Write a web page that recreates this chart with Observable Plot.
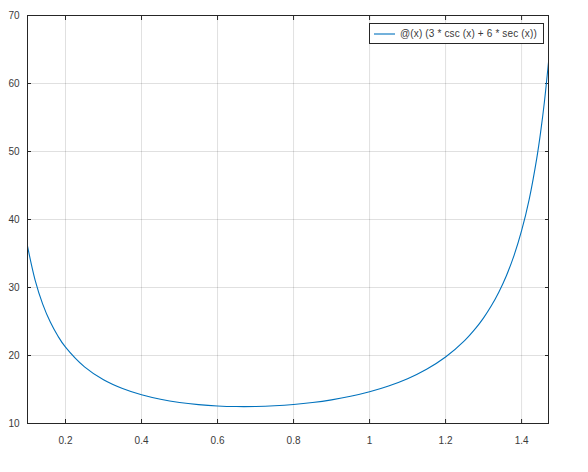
<!DOCTYPE html>
<html>
<head>
<meta charset="utf-8">
<script src="https://cdn.jsdelivr.net/npm/d3@7"></script>
<script src="https://cdn.jsdelivr.net/npm/@observablehq/plot@0.6"></script>
<style>
  html, body { margin: 0; padding: 0; background: #fff; }
  #wrap { position: relative; width: 588px; height: 472px; font-family: "Liberation Sans", Arial, sans-serif; }
  #legend { position: absolute; left: 369px; top: 23px; width: 175px; height: 21px; border: 1px solid #262626; background: #fff;
            display: flex; align-items: center; font-size: 10px; letter-spacing: 0.15px; color: #3a3a3a; padding: 0 0 0 4px; box-sizing: border-box; white-space: nowrap; }
  #legend svg { margin-right: 5px; }
</style>
</head>
<body>
<div id="wrap"></div>
<script>
const seriesName = "@(x) (3 * csc (x) + 6 * sec (x))";
const xValues = [0.10, 0.12, 0.14, 0.16, 0.18, 0.20, 0.25, 0.30, 0.35, 0.40, 0.45, 0.50, 0.55, 0.60, 0.65, 0.70, 0.75, 0.80, 0.85, 0.90, 0.95, 1.00, 1.05, 1.10, 1.15, 1.20, 1.25, 1.28, 1.30, 1.32, 1.34, 1.36, 1.38, 1.40, 1.42, 1.44, 1.45, 1.46, 1.4708];
const yValues = [36.08, 31.10, 27.56, 24.91, 22.86, 21.22, 18.32, 16.43, 15.14, 14.22, 13.56, 13.09, 12.78, 12.58, 12.49, 12.50, 12.60, 12.79, 13.08, 13.48, 14.00, 14.67, 15.52, 16.59, 17.98, 19.78, 22.19, 24.06, 25.54, 27.27, 29.31, 31.74, 34.69, 38.35, 42.97, 49.03, 52.81, 57.28, 63.12];
const xTicks = [0.2, 0.4, 0.6, 0.8, 1, 1.2, 1.4];
const yTicks = [10, 20, 30, 40, 50, 60, 70];
const xDomain = [0.1, 1.4708];
const yDomain = [10, 70];

const data = xValues.map((x, i) => ({x, y: yValues[i]}));
const lineColor = "#0072BD";
const axisColor = "#262626";

const chart = Plot.plot({
  width: 588,
  height: 472,
  marginLeft: 27,
  marginRight: 40,
  marginTop: 15,
  marginBottom: 49,
  style: {fontFamily: "Liberation Sans, Arial, sans-serif", fontSize: "10px", color: axisColor, background: "#fff"},
  x: {domain: xDomain},
  y: {domain: yDomain},
  marks: [
    Plot.gridX(xTicks, {stroke: "#000", strokeOpacity: 0.12}),
    Plot.gridY(yTicks, {stroke: "#000", strokeOpacity: 0.12}),
    Plot.axisX(xTicks, {anchor: "bottom", tickSize: -4, tickPadding: 17, label: null, tickFormat: d => String(d), stroke: axisColor, fill: "#3a3a3a"}),
    Plot.axisX(xTicks, {anchor: "top", tickSize: -4, label: null, tickFormat: () => "", stroke: axisColor}),
    Plot.axisY(yTicks, {anchor: "left", tickSize: -4, tickPadding: 12, label: null, stroke: axisColor, fill: "#3a3a3a"}),
    Plot.axisY(yTicks, {anchor: "right", tickSize: -4, label: null, tickFormat: () => "", stroke: axisColor}),
    Plot.line(data, {x: "x", y: "y", stroke: lineColor, strokeWidth: 1.1, curve: "catmull-rom"}),
    Plot.frame({stroke: axisColor, strokeWidth: 1})
  ]
});

const wrap = document.getElementById("wrap");
wrap.appendChild(chart);
const legend = document.createElement("div");
legend.id = "legend";
legend.innerHTML = `<svg width="21" height="4"><line x1="0" y1="2" x2="21" y2="2" stroke="${lineColor}" stroke-width="1.1"/></svg><span></span>`;
legend.querySelector("span").textContent = seriesName;
wrap.appendChild(legend);
</script>
</body>
</html>
